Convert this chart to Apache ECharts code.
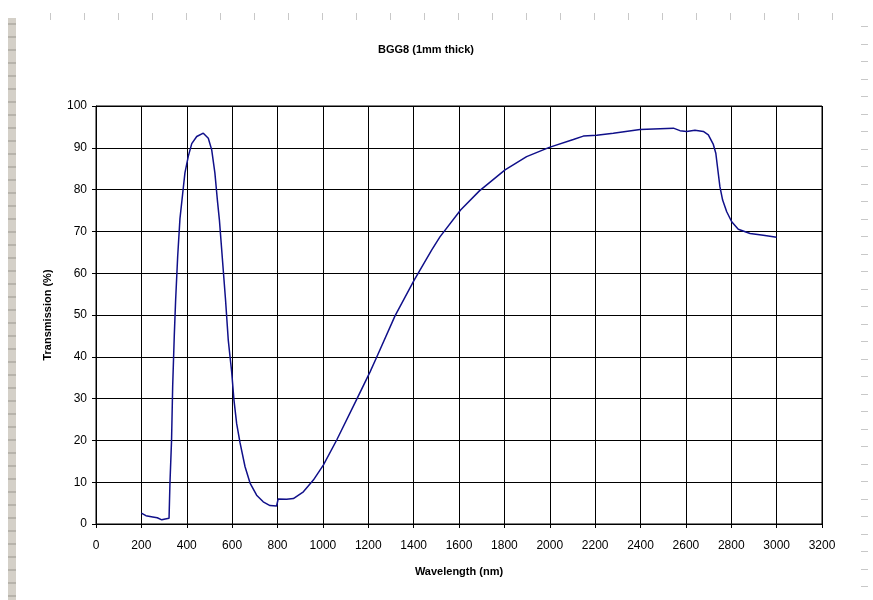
<!DOCTYPE html>
<html>
<head>
<meta charset="utf-8">
<script src="https://cdn.jsdelivr.net/npm/echarts@6/dist/echarts.min.js"></script>
<style>
  html, body { margin: 0; padding: 0; background: #fff; }
  #chart { width: 873px; height: 600px; }
</style>
</head>
<body>
<div id="chart"></div>
<script>
// wavelength (nm) and transmission (%)
const wavelength = [
  200, 220, 250, 270, 290, 305, 322, 326, 333, 338, 345, 351, 360, 370, 382, 392,
  407, 422, 444, 473, 495, 510, 524, 535, 544, 571, 583, 594, 598, 608, 620, 635,
  657, 679, 708, 737, 767, 796, 803, 840, 870, 914, 958, 1002, 1061, 1149, 1208,
  1237, 1318, 1403, 1480, 1516, 1607, 1690, 1803, 1898, 1998, 2104, 2148, 2207,
  2280, 2398, 2545, 2574, 2603, 2640, 2677, 2699, 2721, 2732, 2738, 2750, 2762,
  2780, 2802, 2831, 2883, 2941, 3000
]
const transmission = [
  2.6, 2.0, 1.7, 1.5, 1.0, 1.2, 1.4, 9.8, 20, 33, 45, 53.6, 64, 73, 79, 84,
  88, 91, 92.7, 93.5, 92.3, 89.5, 84, 77.5, 72.7, 53.6, 44, 38.4, 36.4, 29.7, 24, 19.4,
  13.7, 9.8, 6.9, 5.3, 4.4, 4.3, 6.0, 5.9, 6.1, 7.7, 10.5, 14.1, 20.1, 29.8, 36.4,
  39.9, 49.8, 58.4, 65.6, 68.7, 75.1, 79.7, 84.7, 87.9, 90.1, 92.0, 92.8, 93.0,
  93.5, 94.4, 94.7, 94.1, 93.9, 94.2, 93.9, 93.1, 90.8, 88.7, 86, 80.7, 77.5,
  74.7, 72.3, 70.5, 69.5, 69.1, 68.6
]

const chart = echarts.init(document.getElementById('chart'))

// excel window ruler bits round the sheet
const deco = []
deco.push({ type: 'rect', shape: { x: 8, y: 18, width: 8, height: 582 }, style: { fill: '#d4d0c8' }, silent: true })
for (let y = 24; y < 600; y += 13) {
  deco.push({ type: 'line', shape: { x1: 8, y1: y, x2: 16, y2: y }, style: { stroke: '#9a978f', lineWidth: 1 }, silent: true })
}
for (let x = 50; x < 850; x += 34) {
  deco.push({ type: 'line', shape: { x1: x + 0.5, y1: 13, x2: x + 0.5, y2: 20 }, style: { stroke: '#c8c8c8', lineWidth: 1 }, silent: true })
}
for (let y = 26; y < 600; y += 17.5) {
  deco.push({ type: 'line', shape: { x1: 861, y1: Math.round(y) + 0.5, x2: 868, y2: Math.round(y) + 0.5 }, style: { stroke: '#c8c8c8', lineWidth: 1 }, silent: true })
}

const option = {
  animation: false,
  backgroundColor: '#fff',
  title: {
    text: 'BGG8 (1mm thick)',
    left: 421,
    top: 39,
    textAlign: 'center',
    textStyle: { fontFamily: 'Liberation Sans', fontSize: 11, fontWeight: 'bold', color: '#000' }
  },
  graphic: deco,
  grid: {
    left: 96,
    right: 51,
    top: 106,
    bottom: 76,
    show: true,
    borderColor: '#000',
    borderWidth: 1
  },
  xAxis: {
    type: 'value',
    min: 0,
    max: 3200,
    interval: 200,
    name: 'Wavelength (nm)',
    nameLocation: 'middle',
    nameGap: 42,
    nameTextStyle: { fontFamily: 'Liberation Sans', fontSize: 11, fontWeight: 'bold', color: '#000' },
    axisLine: { lineStyle: { color: '#000', width: 1 } },
    axisTick: { show: true, inside: false, length: 4, lineStyle: { color: '#000' } },
    axisLabel: { color: '#000', fontFamily: 'Liberation Sans', fontSize: 12, margin: 16, formatter: v => String(v) },
    splitLine: { show: true, lineStyle: { color: '#000', width: 1 } }
  },
  yAxis: {
    type: 'value',
    min: 0,
    max: 100,
    interval: 10,
    name: 'Transmission (%)',
    nameLocation: 'middle',
    nameGap: 43,
    nameTextStyle: { fontFamily: 'Liberation Sans', fontSize: 11, fontWeight: 'bold', color: '#000' },
    axisLine: { show: true, lineStyle: { color: '#000', width: 1 } },
    axisTick: { show: true, inside: false, length: 4, lineStyle: { color: '#000' } },
    axisLabel: { color: '#000', fontFamily: 'Liberation Sans', fontSize: 12, margin: 9 },
    splitLine: { show: true, lineStyle: { color: '#000', width: 1 } }
  },
  series: [
    {
      type: 'line',
      data: wavelength.map((w, i) => [w, transmission[i]]),
      showSymbol: false,
      smooth: false,
      lineStyle: { color: '#10108a', width: 1.5 }
    }
  ]
}

chart.setOption(option)
</script>
</body>
</html>
